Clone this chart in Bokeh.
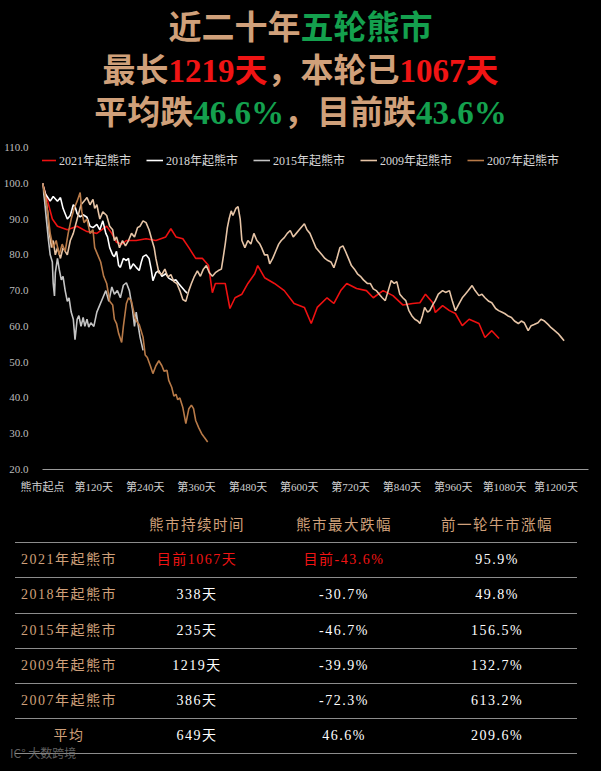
from bokeh.plotting import figure
from bokeh.models import Legend, LegendItem, FixedTicker, NumeralTickFormatter, Div
from bokeh.layouts import column
from bokeh.embed import file_html
from bokeh.resources import INLINE

# ---------------- data ----------------
days_2021 = [0, 12, 23, 35, 58, 81, 104, 127, 150, 162, 173, 185, 196, 219, 242, 265,
             288, 300, 312, 328, 342, 358, 374, 388, 397, 404, 427, 438, 450, 466, 480, 496,
             503, 519, 542, 565, 588, 612, 628, 642, 665, 681, 697, 711, 734, 757, 773, 796,
             819, 842, 865, 882, 895, 912, 918, 935, 951, 965, 981, 997, 1020, 1034, 1050, 1067]
vals_2021 = [100, 95, 90, 88, 87, 88, 86.5, 86, 88, 86, 83.5, 83, 84, 84, 84.5, 84,
             85, 87.3, 85, 84.5, 82, 79, 79, 77, 69.4, 72, 72, 65, 68, 69, 72, 74.7,
             77, 73.6, 72, 70, 66.4, 65.3, 60.8, 65.3, 68, 66.4, 70, 72, 70.6, 70, 68, 70,
             68.6, 66, 66.4, 66.6, 69, 66.6, 63.9, 65.8, 64.4, 63.6, 60.2, 62, 60.8, 56.9, 58.8, 56.6]

days_2018 = [0, 7, 18, 25, 35, 42, 48, 53, 58, 65, 72, 76, 81, 88, 95, 104, 111, 118, 127, 134,
             141, 148, 152, 157, 164, 168, 173, 178, 182, 189, 196, 201, 205, 212, 219, 226,
             231, 235, 242, 249, 254, 258, 265, 272, 279, 288, 295, 305, 312, 318, 325, 332, 338]
vals_2018 = [100, 97, 95, 96.3, 95, 96, 93, 91.5, 90, 91, 94, 93.5, 91.5, 90.6, 91.2, 90.5, 88, 87.6, 88.5, 87,
             89.5, 86, 85, 82, 80, 79.5, 81, 77, 76.5, 79, 78.4, 79, 76, 77.5, 76.5, 75.6,
             78, 79.5, 80, 79, 76, 72.8, 75, 75.6, 74, 74.7, 73.5, 72.8, 73, 72, 71, 70, 69.3]

days_2015 = [0, 5, 9, 14, 18, 23, 25, 28, 30, 35, 39, 44, 48, 53, 58, 62, 67, 72, 76, 81,
             85, 90, 95, 99, 104, 108, 113, 120, 127, 134, 141, 148, 155, 162, 168, 175,
             182, 189, 196, 203, 210, 215, 219, 224, 228, 235]
vals_2015 = [100, 95, 90, 84, 80, 78, 72, 68.5, 75, 79, 76, 73, 74, 70, 67, 68, 64, 62, 56.3, 62,
             63, 60, 62.5, 60, 62, 59.8, 61, 60, 64, 66, 68, 70, 67, 71, 69, 70,
             68, 71.5, 72.2, 70, 65, 60, 64, 60, 57, 53.3]

days_2009 = [0, 7, 12, 16, 21, 25, 30, 35, 42, 48,
             58, 65, 72, 81, 90, 97, 104, 111, 118, 122,
             127, 134, 141, 150, 157, 164, 168, 173, 180, 187,
             194, 201, 208, 215, 222, 228, 235, 242, 249, 256,
             261, 265, 272, 279, 286, 293, 300, 307, 314, 321,
             328, 335, 342, 348, 355, 362, 369, 376, 383, 390,
             397, 404, 411, 418, 422, 427, 432, 436, 441, 445,
             452, 457, 462, 466, 473, 480, 487, 494, 501, 508,
             512, 519, 526, 531, 538, 545, 552, 558, 565, 572,
             579, 586, 593, 600, 607, 612, 618, 625, 632, 639,
             646, 653, 660, 667, 674, 681, 688, 695, 702, 708,
             715, 722, 729, 736, 743, 750, 759, 766, 773, 780,
             787, 794, 801, 808, 815, 822, 828, 835, 842, 849,
             856, 863, 870, 877, 882, 888, 893, 900, 905, 912,
             918, 925, 935, 942, 951, 958, 965, 972, 981, 988,
             995, 1004, 1011, 1020, 1027, 1034, 1043, 1050, 1059, 1066,
             1073, 1080, 1087, 1096, 1103, 1112, 1119, 1126, 1135, 1142,
             1149, 1158, 1165, 1172, 1182, 1188, 1195, 1205, 1212, 1219]
vals_2009 = [100, 96, 92, 86, 82, 84, 80, 82, 79, 82,
             80, 84, 86, 90, 94, 95, 96, 94, 95.5, 93,
             94, 90, 92, 91, 88, 87, 84, 85, 82, 84,
             82.5, 84, 86, 85, 87.6, 88, 89.5, 89, 87, 84,
             82, 79, 75, 74.5, 76, 73.8, 74.5, 72.5, 72, 70,
             67.5, 67, 70, 72, 74, 75.5, 74, 76, 77, 75,
             74, 75, 75.6, 76, 79, 83, 87.6, 90, 92.3, 91,
             93, 93.5, 90, 84, 82, 84, 83, 86, 84, 83,
             82, 80, 80, 77.5, 79, 81, 83, 84, 84.8, 86,
             86.8, 85, 86, 87, 88, 88.7, 87, 86, 84, 82,
             81, 80, 79, 78.4, 78, 76.4, 79, 82, 82.5, 81,
             79, 77, 76, 74.7, 74, 73, 72, 72, 70.5, 70,
             69, 68, 67.2, 70, 72.8, 72, 72.5, 69, 68, 67.2,
             64.5, 63, 62, 61.5, 60.8, 63, 65.3, 64, 64.4, 66,
             67.2, 69, 70, 69.5, 70, 67, 64.4, 66, 68, 69,
             70, 71.4, 70, 68.6, 69, 68, 67, 66.6, 65, 64.4,
             64, 63.6, 63, 62.5, 61.5, 60.8, 61.5, 61, 58.8, 60.2,
             60.5, 61, 62, 61.6, 60.5, 59.7, 59, 58, 57, 56]

days_2007 = [0, 7, 12, 18, 25, 32, 39, 46, 53, 60, 67, 74, 81, 88, 92, 97,
             104, 111, 118, 122, 129, 136, 143, 150, 157, 164, 168, 173, 178, 185, 189, 196,
             201, 208, 215, 219, 226, 235, 240, 245, 252, 258, 265, 272, 279, 284, 291, 295,
             302, 307, 312, 316, 321, 328, 335, 342, 348, 353, 358, 365, 372, 378, 386]
vals_2007 = [100, 96, 92, 86, 82, 84, 80, 83, 81, 86, 90, 93, 95, 97.4, 92, 89,
             90, 86, 87, 82, 80, 78, 74, 72, 67, 66, 62, 60.8, 58, 55.5, 60, 66.4,
             68, 67, 63, 61.6, 60.5, 57, 52, 51.3, 49, 46.8, 49, 50.4, 49, 47.5, 47.7, 44.9,
             43, 40.5, 41, 39.5, 40, 37.3, 32.8, 37, 38, 37, 33.7, 31.7, 30, 29, 27.7]

series_names = ["2021年起熊市", "2018年起熊市", "2015年起熊市", "2009年起熊市", "2007年起熊市"]
series_colors = ["#ee1111", "#ffffff", "#c4c4c4", "#e6c4a6", "#b87a48"]

x_ticks = [0, 120, 240, 360, 480, 600, 720, 840, 960, 1080, 1200]
x_tick_labels = ["熊市起点", "第120天", "第240天", "第360天", "第480天", "第600天",
                 "第720天", "第840天", "第960天", "第1080天", "第1200天"]
y_ticks = [20, 30, 40, 50, 60, 70, 80, 90, 100, 110]

# table
table_header = ["", "熊市持续时间", "熊市最大跌幅", "前一轮牛市涨幅"]
row_names = ["2021年起熊市", "2018年起熊市", "2015年起熊市", "2009年起熊市", "2007年起熊市", "平均"]
durations = ["目前1067天", "338天", "235天", "1219天", "386天", "649天"]
max_drops = ["目前-43.6%", "-30.7%", "-46.7%", "-39.9%", "-72.3%", "46.6%"]
prior_gains = ["95.9%", "49.8%", "156.5%", "132.7%", "613.2%", "209.6%"]

# title figures
longest_days = "1219天"
current_days = "1067天"
avg_drop = "46.6%"
current_drop = "43.6%"

# ---------------- styles ----------------
TAN = "#d0a07a"
GREEN = "#14a04e"
RED = "#f01414"
FONT = "'Liberation Serif', 'Noto Sans CJK SC', serif"

# ---------------- title ----------------
title_html = f"""
<div style="width:601px;height:128px;background:#000;text-align:center;font-family:{FONT};
font-weight:bold;font-size:33px;line-height:42.5px;color:{TAN};padding-top:7px;">
<div>近二十年<span style="color:{GREEN}">五轮熊市</span></div>
<div>最长<span style="color:{RED}">{longest_days}</span>，本轮已<span style="color:{RED}">{current_days}</span></div>
<div>平均跌<span style="color:{GREEN}">{avg_drop}</span>，目前跌<span style="color:{GREEN}">{current_drop}</span></div>
</div>
"""
title_div = Div(text=title_html, width=601, height=135, margin=0,
                styles={"background-color": "#000000", "overflow": "hidden"})

# ---------------- chart ----------------
p = figure(width=601, height=365, x_range=(0, 1276), y_range=(20, 110),
           output_backend="svg", toolbar_location=None,
           background_fill_color="#000000", border_fill_color="#000000",
           outline_line_color=None,
           min_border_left=35, min_border_right=13, min_border_top=12, min_border_bottom=31)
p.grid.visible = False

all_days = [days_2021, days_2018, days_2015, days_2009, days_2007]
all_vals = [vals_2021, vals_2018, vals_2015, vals_2009, vals_2007]
renderers = []
for d, v, c in zip(all_days, all_vals, series_colors):
    renderers.append(p.line(d, v, line_color=c, line_width=1.6))

p.yaxis.ticker = FixedTicker(ticks=y_ticks)
p.yaxis.formatter = NumeralTickFormatter(format="0.0")
p.yaxis.axis_line_color = None
p.yaxis.major_tick_line_color = None
p.yaxis.minor_tick_line_color = None
p.yaxis.major_label_text_font = FONT
p.yaxis.major_label_text_font_size = "11px"
p.yaxis.major_label_text_color = "#bdbdbd"
p.yaxis.major_label_standoff = 8

p.xaxis.ticker = FixedTicker(ticks=x_ticks)
p.xaxis.major_label_overrides = {t: l for t, l in zip(x_ticks, x_tick_labels)}
p.xaxis.axis_line_color = "#9a9a9a"
p.xaxis.axis_line_width = 1
p.xaxis.major_tick_line_color = None
p.xaxis.minor_tick_line_color = None
p.xaxis.major_label_text_font = FONT
p.xaxis.major_label_text_font_size = "11px"
p.xaxis.major_label_text_color = "#d0d0d0"
p.xaxis.major_label_standoff = 5

legend = Legend(items=[LegendItem(label=n, renderers=[r]) for n, r in zip(series_names, renderers)],
                orientation="horizontal", location=(-3, 300),
                background_fill_alpha=0, border_line_color=None,
                label_text_color="#d9d9d9", label_text_font=FONT,
                label_text_font_size="12px", glyph_width=17, glyph_height=12,
                label_standoff=3, spacing=15, padding=0, margin=0)
p.add_layout(legend)

# ---------------- table ----------------
col_w = [108, 148, 146, 160]

def cell(txt, w, color, size="14px"):
    return (f'<div style="width:{w}px;text-align:center;color:{color};font-size:{size};'
            f'letter-spacing:1.5px;white-space:nowrap;">{txt}</div>')

row_style = ("box-sizing:border-box;display:flex;align-items:center;height:35.2px;"
             "border-bottom:1px solid #8c8c8c;")
rows_html = '<div style="' + row_style + '">' + "".join(
    cell(h, w, TAN, "14.5px") for h, w in zip(table_header, col_w)) + "</div>"
for i, name in enumerate(row_names):
    vcol = RED if i == 0 else "#ffffff"
    rows_html += '<div style="' + row_style + '">'
    rows_html += cell(name, col_w[0], TAN)
    rows_html += cell(durations[i], col_w[1], vcol)
    rows_html += cell(max_drops[i], col_w[2], vcol)
    rows_html += cell(prior_gains[i], col_w[3], "#ffffff")
    rows_html += "</div>"

table_html = f"""
<div style="position:relative;width:601px;height:271px;background:#000;font-family:{FONT};">
<div style="position:absolute;left:15px;top:8px;width:562px;">{rows_html}</div>
<div style="position:absolute;left:10px;top:244px;color:#7a7a7a;font-size:12px;font-family:'Noto Sans CJK SC';opacity:0.8;">IC° 大数跨境</div>
</div>
"""
table_div = Div(text=table_html, width=601, height=271, margin=0,
                styles={"background-color": "#000000"})

layout = column(title_div, p, table_div, spacing=0, margin=0,
                styles={"background-color": "#000000"})

html = file_html(layout, INLINE, title="熊市对比")
html = html.replace("</head>", "<style>html,body{background:#000000;}</style></head>", 1)
open("out.html", "w").write(html)
